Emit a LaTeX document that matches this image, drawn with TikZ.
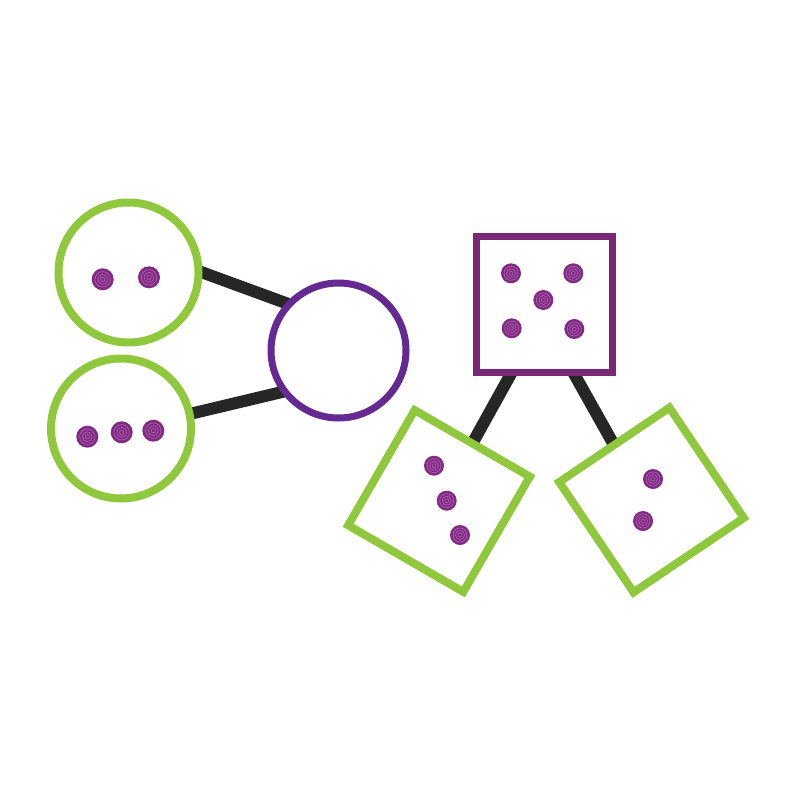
\documentclass[tikz,border=0pt]{standalone}
\usetikzlibrary{backgrounds}
\definecolor{lime}{RGB}{143,200,60}
\definecolor{ringpurple}{RGB}{100,42,145}
\definecolor{sqpurple}{RGB}{122,40,118}
\definecolor{chippurple}{RGB}{128,42,130}
\definecolor{chipline}{RGB}{180,100,185}
\definecolor{barblack}{RGB}{38,38,38}
\newcommand\chip[3][10]{\fill[chippurple] (#2,#3) circle (#1);
  \draw[chipline,line width=.6pt] (#2,#3) circle (#1*.7) (#2,#3) circle (#1*.45) (#2,#3) circle (#1*.2);}
\begin{document}
\begin{tikzpicture}[x=1pt,y=-1pt,
  ring/.style={circle,draw=#1,fill=white,inner sep=0pt},
  sq/.style={rectangle,draw=#1,fill=white,inner sep=0pt},
  bar/.style={draw=barblack,line width=12pt,shorten <=-3pt,shorten >=-3pt}]
\useasboundingbox (0,0) rectangle (800,800);
% circles: two parts and the whole
\node[ring=lime,line width=8pt,minimum size=140pt] (ta) at (128.5,272.5) {};
\node[ring=lime,line width=8pt,minimum size=140pt] (tb) at (121,428.5) {};
\node[ring=ringpurple,line width=7pt,minimum size=135pt] (tw) at (338.5,350.5) {};
% squares: the whole and two parts
\node[sq=sqpurple,line width=7pt,minimum size=136pt] (pw) at (544,304) {};
\node[sq=lime,line width=8pt,minimum size=133pt,rotate=-30] (pa) at (439,501) {};
\node[sq=lime,line width=8pt,minimum size=133pt,rotate=34] (pb) at (651.5,500) {};
\begin{pgfonlayer}{background}
\draw[bar] (ta.0) -- (tw.138);
\draw[bar] (tb.12) -- (tw.216);
\draw[bar] ([xshift=-34pt]pw.south) -- (pa.north);
\draw[bar] ([xshift=31pt]pw.south) -- (pb.north);
\end{pgfonlayer}
% counters
\foreach \x/\y in {102.7/279.3,149/277.3,87.3/436.7,121.7/432.3,153.3/430.7}
  \chip[11]{\x}{\y};
\foreach \x/\y in {511/273.3,573.3/273.3,543.3/300,511.7/328.3,574.3/329,
  434/465.7,446.7/500.7,460/535,653/479,643/521}
  \chip{\x}{\y};
\end{tikzpicture}
\end{document}
